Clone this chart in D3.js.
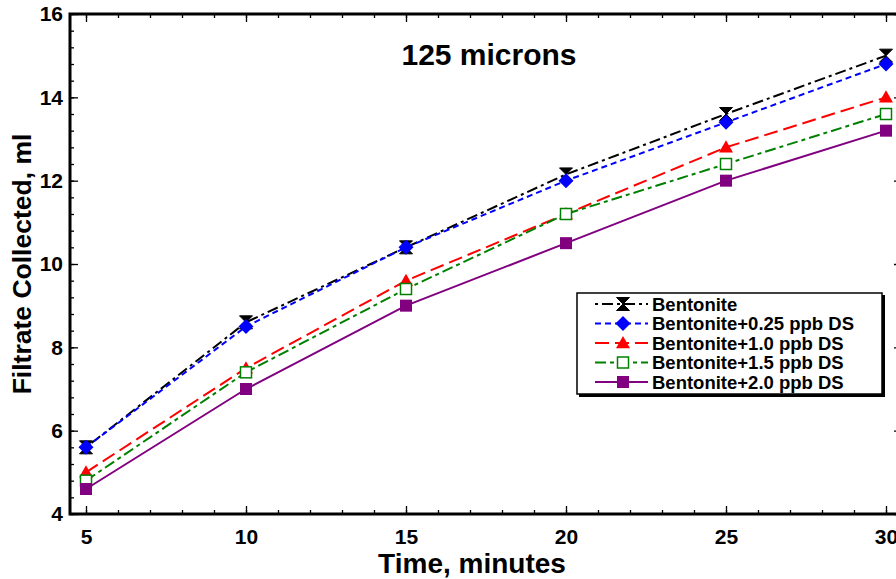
<!DOCTYPE html>
<html>
<head>
<meta charset="utf-8">
<script src="https://cdn.jsdelivr.net/npm/d3@7"></script>
<style>
  html, body { margin: 0; padding: 0; background: #fff; }
  svg { display: block; }
  text { font-family: Arial, "Liberation Sans", sans-serif; font-weight: bold; fill: #000; }
</style>
</head>
<body>
<svg id="chart" width="896" height="579"></svg>
<script>
// ---- Data ----
const times = [5, 10, 15, 20, 25, 30];
const bentonite      = [5.6, 8.6, 10.4, 12.15, 13.6, 15.0];
const bentonite025   = [5.6, 8.5, 10.4, 12.0, 13.4, 14.8];
const bentonite10    = [5.0, 7.5, 9.6, 11.2, 12.8, 14.0];
const bentonite15    = [4.8, 7.4, 9.4, 11.2, 12.4, 13.6];
const bentonite20    = [4.6, 7.0, 9.0, 10.5, 12.0, 13.2];
const seriesNames = ["Bentonite", "Bentonite+0.25 ppb DS", "Bentonite+1.0 ppb DS", "Bentonite+1.5 ppb DS", "Bentonite+2.0 ppb DS"];
const xTickLabels = [5, 10, 15, 20, 25, 30];
const yTickLabels = [4, 6, 8, 10, 12, 14, 16];
const chartTitle = "125 microns";
const xTitle = "Time, minutes";
const yTitle = "Filtrate Collected, ml";

// ---- Styles ----
const styles = [
  { color: "#000000", dash: "3,4,11,4", marker: "bowtie" },
  { color: "#0000ff", dash: "6,4",      marker: "diamond" },
  { color: "#ff0000", dash: "14,6",     marker: "triangle" },
  { color: "#008000", dash: "11,4,4,4", marker: "opensquare" },
  { color: "#800080", dash: null,       marker: "square" }
];
const allSeries = [bentonite, bentonite025, bentonite10, bentonite15, bentonite20];

const svg = d3.select("#chart");
const pLeft = 70, pRight = 902, pTop = 14, pBottom = 514;
const x = d3.scaleLinear().domain([4.5, 30.5]).range([pLeft, pRight]);
const y = d3.scaleLinear().domain([4, 16]).range([pBottom, pTop]);

// ---- Axes (ticks inward) ----
const xMinor = d3.range(5, 31, 1);
const yMinor = d3.range(4, 16.001, 0.4).map(v => +v.toFixed(1));
function axisG(axis, tx, ty) {
  const g = svg.append("g").attr("transform", `translate(${tx},${ty})`).call(axis);
  g.select(".domain").remove();
  g.selectAll("line").attr("stroke", "#000").attr("stroke-width", 1.3);
  return g;
}
// minor
axisG(d3.axisBottom(x).tickValues(xMinor).tickSize(-4).tickFormat(""), 0, pBottom);
axisG(d3.axisTop(x).tickValues(xMinor).tickSize(-4).tickFormat(""), 0, pTop);
axisG(d3.axisLeft(y).tickValues(yMinor).tickSize(-4).tickFormat(""), pLeft, 0);
axisG(d3.axisRight(y).tickValues(yMinor).tickSize(-4).tickFormat(""), pRight, 0);
// major
const gx = axisG(d3.axisBottom(x).tickValues(xTickLabels).tickSize(-8).tickPadding(15).tickFormat(d3.format("d")), 0, pBottom);
gx.selectAll("text").attr("font-size", 21).attr("font-weight", "bold").attr("font-family", "Arial, 'Liberation Sans', sans-serif").attr("fill", "#000");
axisG(d3.axisTop(x).tickValues(xTickLabels).tickSize(-8).tickFormat(""), 0, pTop);
const gy = axisG(d3.axisLeft(y).tickValues(yTickLabels).tickSize(-8).tickPadding(7).tickFormat(d3.format("d")), pLeft, 0);
gy.selectAll("text").attr("font-size", 21).attr("font-weight", "bold").attr("font-family", "Arial, 'Liberation Sans', sans-serif").attr("fill", "#000");
axisG(d3.axisRight(y).tickValues(yTickLabels).tickSize(-8).tickFormat(""), pRight, 0);

// frame
svg.append("rect").attr("x", pLeft).attr("y", pTop).attr("width", pRight - pLeft).attr("height", pBottom - pTop)
  .attr("fill", "none").attr("stroke", "#000").attr("stroke-width", 3);

// ---- Markers ----
function drawMarker(g, type, color, cx, cy) {
  const s = 6.5;
  if (type === "bowtie") {
    g.append("path").attr("d", `M${cx - s},${cy - s}L${cx + s},${cy - s}L${cx},${cy}Z M${cx - s},${cy + s}L${cx + s},${cy + s}L${cx},${cy}Z`)
      .attr("fill", color).attr("stroke", color).attr("stroke-width", 1);
  } else if (type === "diamond") {
    const d = 7.5;
    g.append("path").attr("d", `M${cx},${cy - d}L${cx + d},${cy}L${cx},${cy + d}L${cx - d},${cy}Z`).attr("fill", color);
  } else if (type === "triangle") {
    const h = 7;
    g.append("path").attr("d", `M${cx},${cy - h}L${cx + h},${cy + h * 0.75}L${cx - h},${cy + h * 0.75}Z`).attr("fill", color);
  } else if (type === "opensquare") {
    g.append("rect").attr("x", cx - 5.5).attr("y", cy - 5.5).attr("width", 11).attr("height", 11)
      .attr("fill", "#fff").attr("stroke", color).attr("stroke-width", 1.5);
  } else if (type === "square") {
    g.append("rect").attr("x", cx - 6).attr("y", cy - 6).attr("width", 12).attr("height", 12).attr("fill", color);
  }
}

// ---- Lines ----
const line = d3.line().x((d, i) => x(times[i])).y(d => y(d));
allSeries.forEach((vals, si) => {
  const st = styles[si];
  const g = svg.append("g");
  g.append("path").datum(vals).attr("d", line).attr("fill", "none")
    .attr("stroke", st.color).attr("stroke-width", 2)
    .attr("stroke-dasharray", st.dash);
  vals.forEach((v, i) => drawMarker(g, st.marker, st.color, x(times[i]), y(v)));
});

// ---- Legend ----
const lg = svg.append("g");
lg.append("rect").attr("x", 579).attr("y", 295).attr("width", 306).attr("height", 102).attr("fill", "#000");
lg.append("rect").attr("x", 577).attr("y", 293).attr("width", 305).attr("height", 101).attr("fill", "#fff").attr("stroke", "#000").attr("stroke-width", 1.5);
seriesNames.forEach((name, i) => {
  const st = styles[i];
  const ly = 304 + i * 19.5;
  lg.append("line").attr("x1", 595).attr("x2", 648).attr("y1", ly).attr("y2", ly)
    .attr("stroke", st.color).attr("stroke-width", 2).attr("stroke-dasharray", st.dash);
  drawMarker(lg, st.marker, st.color, 623, ly);
  lg.append("text").attr("x", 652).attr("y", ly).attr("dy", "0.36em").attr("font-size", 18.5).text(name);
});

// ---- Titles ----
svg.append("text").attr("x", 489).attr("y", 65).attr("text-anchor", "middle").attr("font-size", 30).text(chartTitle);
svg.append("text").attr("x", 472).attr("y", 573).attr("text-anchor", "middle").attr("font-size", 28).text(xTitle);
svg.append("text").attr("transform", "translate(31,264) rotate(-90)").attr("text-anchor", "middle").attr("font-size", 26.5).text(yTitle);
</script>
</body>
</html>
